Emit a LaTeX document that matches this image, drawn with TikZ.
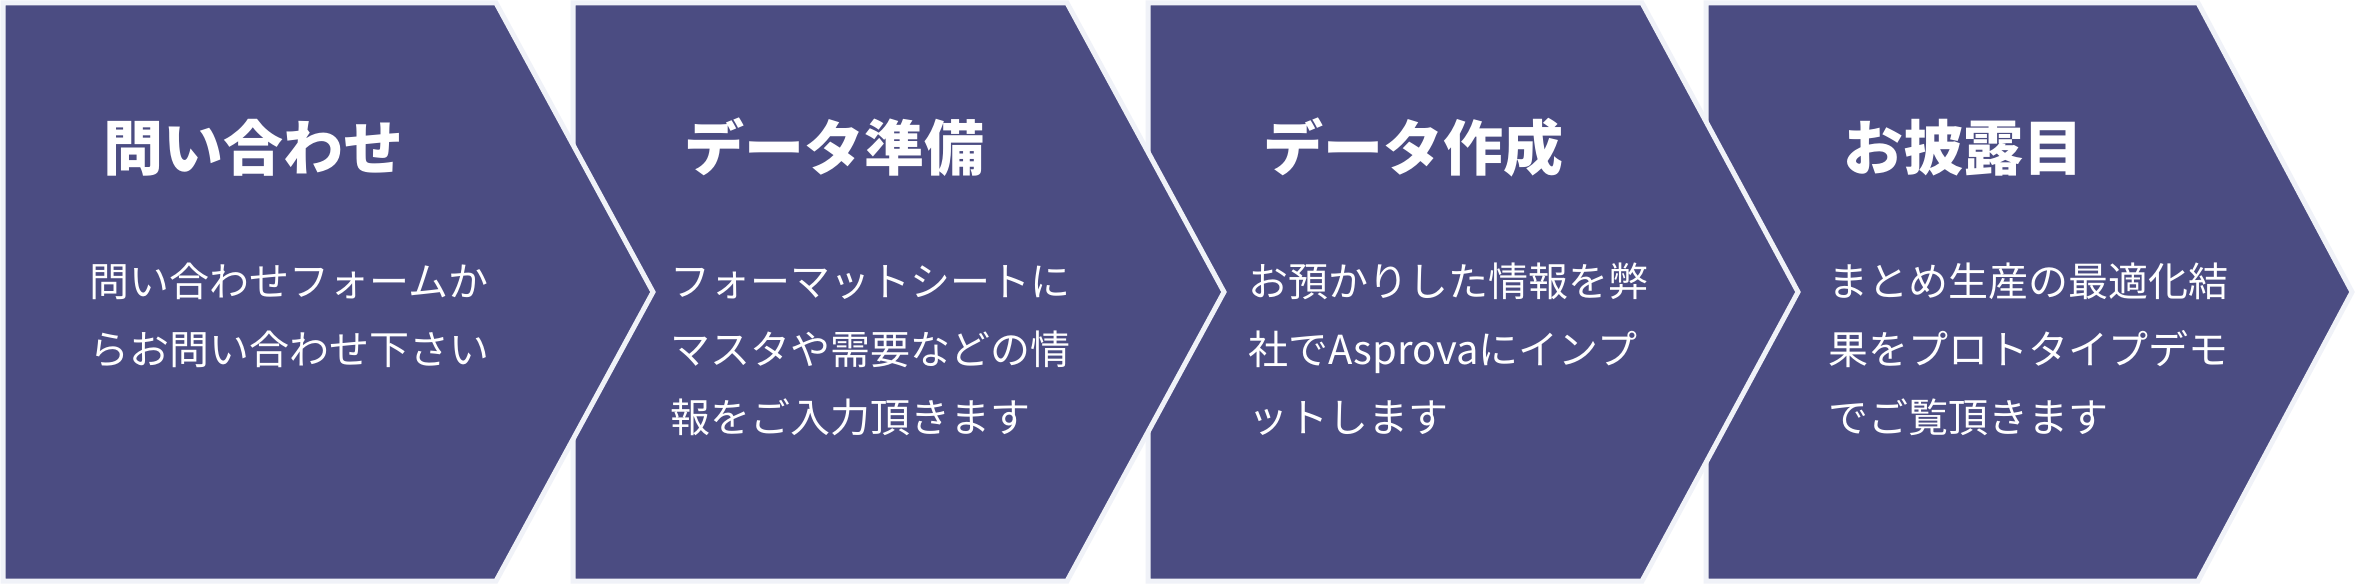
\documentclass[tikz,border=0pt]{standalone}
\usepackage{fontspec}
\setmainfont{Noto Sans CJK JP}
\definecolor{chev}{HTML}{4B4C82}
\definecolor{edge}{HTML}{F0F2F8}
\begin{document}
\begin{tikzpicture}[x=1pt,y=-1pt,
  chevron/.style={fill=chev,draw=edge,line width=5pt,line join=miter},
  title/.style={text=white,font=\fontsize{60}{64}\selectfont\bfseries,anchor=base,inner sep=0pt},
  body/.style={text=white,font=\fontsize{40}{68}\selectfont,anchor=base west,inner sep=0pt}]
\useasboundingbox (0,0) rectangle (2357,585);
\fill[white] (0,0) rectangle (2357,585);
% chevrons, drawn right to left so each overlaps the next
\path[chevron] (1706,3) -- (2198,3) -- (2352,292) -- (2198,581) -- (1706,581) -- cycle;
\path[chevron] (1148,3) -- (1642,3) -- (1798,292) -- (1642,581) -- (1148,581) -- cycle;
\path[chevron] (573,3) -- (1067,3) -- (1224,292) -- (1067,581) -- (573,581) -- cycle;
\path[chevron] (3,3) -- (496,3) -- (653,292) -- (496,581) -- (3,581) -- cycle;
% titles
\node[title] (t1) at (253,171) {問い合わせ};
\node[title] (t2) at (834,171) {データ準備};
\node[title] (t3) at (1413,171) {データ作成};
\node[title] (t4) at (1963,171) {お披露目};
% bodies
\node[body] (b1a) at (89,296) {問い合わせフォームか};
\node[body] (b1b) at (89,364) {らお問い合わせ下さい};
\node[body] (b2a) at (670,296) {フォーマットシートに};
\node[body] (b2b) at (670,364) {マスタや需要などの情};
\node[body] (b2c) at (670,432) {報をご入力頂きます};
\node[body] (b3a) at (1248,296) {お預かりした情報を弊};
\node[body] (b3b) at (1248,364) {社でAsprovaにインプ};
\node[body] (b3c) at (1248,432) {ットします};
\node[body] (b4a) at (1828,296) {まとめ生産の最適化結};
\node[body] (b4b) at (1828,364) {果をプロトタイプデモ};
\node[body] (b4c) at (1828,432) {でご覧頂きます};
\end{tikzpicture}
\end{document}
